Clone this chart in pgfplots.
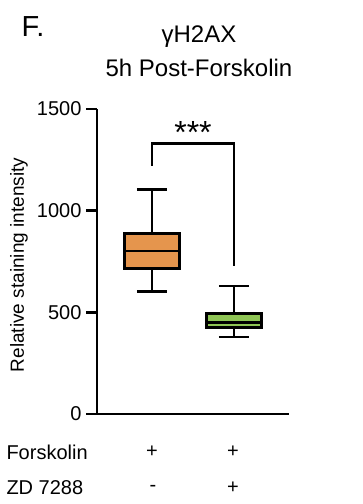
\documentclass[border=0pt]{standalone}
\usepackage{pgfplots}
\pgfplotsset{compat=1.18}
\usepgfplotslibrary{statistics}
\usepackage{fontspec}
\setmainfont{Liberation Sans}
\definecolor{boxorange}{HTML}{E5954D}
\definecolor{boxgreen}{HTML}{8FC555}
\newcommand{\fs}[1]{\fontsize{#1bp}{#1bp}\selectfont}
\begin{document}
\begin{tikzpicture}[x=1bp,y=1bp]
\useasboundingbox (0,0) rectangle (362,504);
\begin{axis}[
  at={(97bp,90bp)}, anchor=south west,
  scale only axis, width=192bp, height=305bp,
  axis lines=left, axis line style={line width=2.8bp,-},
  ymin=0, ymax=1500, xmin=0.33, xmax=2.67,
  ytick={0,500,1000,1500},
  xtick=\empty,
  tick style={line width=2.8bp,black},
  major tick length=11bp,
  tick align=outside,
  yticklabel style={font=\fs{20}, xshift=-1bp},
  /pgf/number format/assume math mode=true,
  /pgf/number format/1000 sep={},
  clip=false,
  boxplot/draw direction=y,
  boxplot/box extend=0.67,
  boxplot/whisker extend=0.37,
]
\addplot+[boxplot prepared={lower whisker=601, lower quartile=714, median=802, upper quartile=889, upper whisker=1106},
  draw=black, line width=2.8bp, fill=boxorange, mark=none, solid] coordinates {};
\addplot+[boxplot prepared={lower whisker=379, lower quartile=425, median=450, upper quartile=494, upper whisker=629},
  draw=black, line width=2.8bp, fill=boxgreen, mark=none, solid] coordinates {};
\draw[line width=2.8bp] (axis cs:1,1221) -- (axis cs:1,1330) -- (axis cs:2,1330) -- (axis cs:2,730);
\node[font=\fs{32}] at (axis cs:1.5,1385) {***};
\end{axis}
\node[font=\fs{19}, rotate=90] at (19,239) {Relative staining intensity};
\node[font=\fs{29}] at (33,477) {F.};
\node[font=\fs{24}] at (199,467) {γH2AX};
\node[font=\fs{24}] at (199,436) {5h Post-Forskolin};
\node[font=\fs{20}, anchor=west] at (3,52) {Forskolin};
\node[font=\fs{20}, anchor=west] at (3,16) {ZD 7288};
\node[font=\fs{20}] at (152,52) {+};
\node[font=\fs{20}] at (233,52) {+};
\node[font=\fs{20}] at (153,16) {-};
\node[font=\fs{20}] at (233,16) {+};
\end{tikzpicture}
\end{document}
